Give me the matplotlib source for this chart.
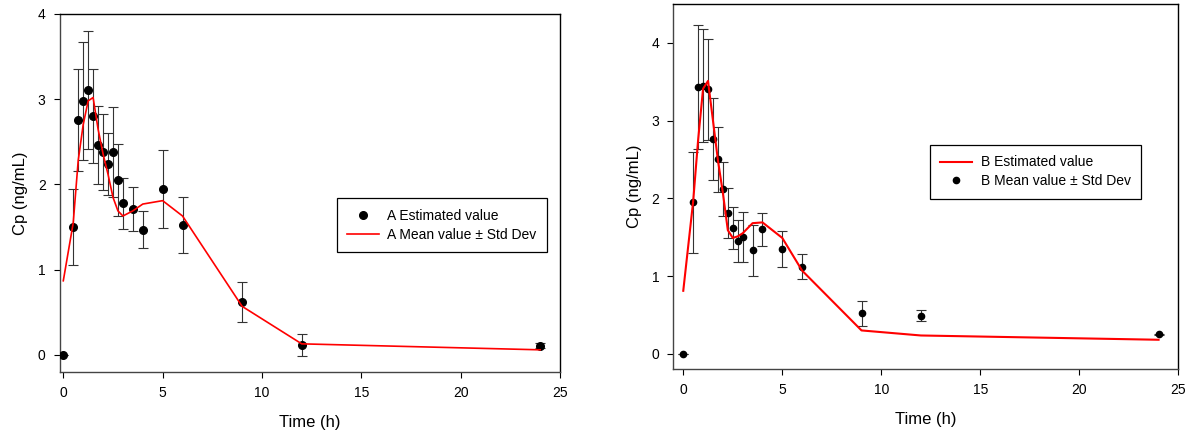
import matplotlib.pyplot as plt

plt.rcParams['font.family'] = ['Liberation Sans', 'DejaVu Sans']

# sampling times (h)
time_h = [0, 0.5, 0.75, 1, 1.25, 1.5, 1.75, 2, 2.25, 2.5, 2.75, 3, 3.5, 4, 5, 6, 9, 12, 24]

# formulation A
a_mean = [0, 1.50, 2.76, 2.98, 3.11, 2.80, 2.46, 2.38, 2.24, 2.38, 2.05, 1.78, 1.71, 1.47, 1.95, 1.52, 0.62, 0.12, 0.11]
a_sd = [0, 0.45, 0.60, 0.69, 0.69, 0.55, 0.46, 0.45, 0.36, 0.53, 0.42, 0.30, 0.26, 0.22, 0.46, 0.33, 0.23, 0.13, 0.03]
a_fit = [0.87, 1.55, 2.28, 2.70, 2.98, 3.02, 2.65, 2.36, 2.12, 1.85, 1.69, 1.63, 1.69, 1.77, 1.81, 1.63, 0.57, 0.13, 0.06]

# formulation B
b_mean = [0, 1.95, 3.43, 3.45, 3.40, 2.76, 2.50, 2.12, 1.81, 1.62, 1.45, 1.50, 1.33, 1.60, 1.35, 1.12, 0.52, 0.49, 0.25]
b_sd = [0, 0.65, 0.80, 0.73, 0.65, 0.53, 0.42, 0.35, 0.32, 0.27, 0.27, 0.32, 0.33, 0.21, 0.23, 0.16, 0.16, 0.07, 0.01]
b_fit = [0.81, 1.96, 2.75, 3.41, 3.51, 3.00, 2.49, 2.07, 1.59, 1.49, 1.51, 1.55, 1.68, 1.69, 1.49, 1.07, 0.30, 0.235, 0.18]

x_ticks = [0, 5, 10, 15, 20, 25]
y_ticks = [0, 1, 2, 3, 4]


def style_axes(ax, xlim, ylim):
    ax.set_xlim(*xlim)
    ax.set_ylim(*ylim)
    ax.set_xticks(x_ticks)
    ax.set_yticks(y_ticks)
    ax.tick_params(direction='out', length=4, width=0.8, labelsize=10, pad=6)
    for side in ['left', 'bottom']:
        ax.spines[side].set_color('#444444')
        ax.spines[side].set_linewidth(1.0)
    for side in ['top', 'right']:
        ax.spines[side].set_color('black')
        ax.spines[side].set_linewidth(1.0)
    ax.set_xlabel("Time (h)", fontsize=12, labelpad=11)
    ax.set_ylabel("Cp (ng/mL)", fontsize=12, labelpad=7)


def add_legend(ax, handles, anchor):
    leg = ax.legend(handles=handles, loc='upper right', bbox_to_anchor=anchor,
                    fontsize=10, frameon=True, fancybox=False, framealpha=1,
                    edgecolor='black', handlelength=2.3, handletextpad=0.6,
                    labelspacing=0.35, borderpad=0.75)
    leg.get_frame().set_linewidth(0.9)


fig = plt.figure(figsize=(11.88, 4.34), dpi=100)

# --- panel A ---
ax1 = fig.add_axes([0.0501, 0.1429, 0.4213, 0.8249])
ax1.errorbar(time_h, a_mean, yerr=a_sd, fmt='none', ecolor='#333333',
             elinewidth=0.8, capsize=3.6, capthick=0.8, zorder=2)
dots_a, = ax1.plot(time_h, a_mean, 'o', color='black', markersize=5.5, zorder=3,
                   label='A Estimated value')
line_a, = ax1.plot(time_h, a_fit, '-', color='red', linewidth=1.2, zorder=4,
                   label='A Mean value ± Std Dev')
style_axes(ax1, (-0.19, 25), (-0.2, 4))
add_legend(ax1, [dots_a, line_a], (0.988, 0.504))

# --- panel B ---
ax2 = fig.add_axes([0.5668, 0.1491, 0.4251, 0.8417])
ax2.errorbar(time_h, b_mean, yerr=b_sd, fmt='none', ecolor='#333333',
             elinewidth=0.8, capsize=3.6, capthick=0.8, zorder=2)
line_b, = ax2.plot(time_h, b_fit, '-', color='red', linewidth=1.5, zorder=4,
                   label='B Estimated value')
dots_b, = ax2.plot(time_h, b_mean, 'o', color='black', markersize=4.5, zorder=3,
                   label='B Mean value ± Std Dev')
style_axes(ax2, (-0.5, 25), (-0.2, 4.5))
add_legend(ax2, [line_b, dots_b], (0.94, 0.633))

fig.savefig("out.png", dpi=100)
